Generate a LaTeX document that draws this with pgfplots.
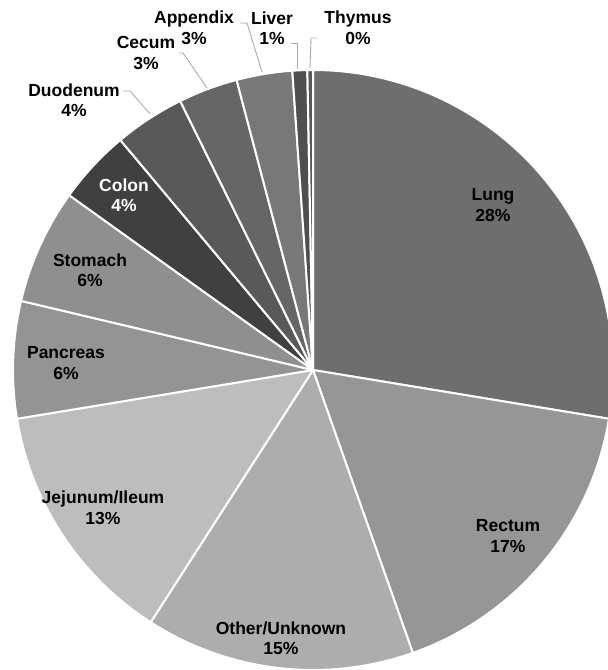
\documentclass[border=0pt]{standalone}
\usepackage{pgfplots}
\pgfplotsset{compat=1.18}
\usepackage{pgfplotstable}
\usepackage{fontspec}
\setmainfont{Liberation Sans}

% share (%) and black percentage of the fill, in clockwise order from 12 o'clock
\pgfplotstableread{
name value black
Lung 27.6 57
Rectum 17.0 41
Other 14.5 32
Jejunum 13.3 26
Pancreas 6.3 42
Stomach 6.2 44
Colon 4.0 75
Duodenum 3.8 65
Cecum 3.2 60
Appendix 3.0 53
Liver 0.8 69
Thymus 0.3 65
}\slices

\begin{document}
\begin{tikzpicture}
\begin{axis}[x=1pt,y=1pt,xmin=0,xmax=608,ymin=0,ymax=670,
  hide axis, scale only axis, clip=true, at={(0,0)}, anchor=south west]
\def\cum{0}
\pgfplotsforeachungrouped \i in {0,...,11}{%
  \pgfplotstablegetelem{\i}{value}\of\slices \let\v\pgfplotsretval
  \pgfplotstablegetelem{\i}{black}\of\slices \let\k\pgfplotsretval
  \pgfmathsetmacro\a{90-3.6*\cum}%
  \pgfmathsetmacro\cum{\cum+\v}%
  \pgfmathsetmacro\b{90-3.6*\cum}%
  \edef\temp{\noexpand\fill[black!\k, draw=white, line width=2pt, line join=round]
     (axis cs:313,300) -- ++(\a:300pt) arc[start angle=\a, end angle=\b, radius=300pt] -- cycle;}%
  \temp
}
% leader lines
\begin{scope}[draw=black!33, line width=0.9pt]
\draw (axis cs:123,579) -- (axis cs:130,579) -- (axis cs:150,556);
\draw (axis cs:179,617) -- (axis cs:183,617) -- (axis cs:207,582);
\draw (axis cs:240,647) -- (axis cs:247,647) -- (axis cs:262,598);
\draw (axis cs:291,627) -- (axis cs:297,627) -- (axis cs:297,601);
\draw (axis cs:317,632) -- (axis cs:311,632) -- (axis cs:310,602);
\end{scope}
% labels
\begin{scope}[every node/.style={align=center, inner sep=0pt, font=\bfseries\fontsize{17.5}{20.5}\selectfont}]
\node at (axis cs:493,465) {Lung\\28\%};
\node at (axis cs:508,134) {Rectum\\17\%};
\node at (axis cs:281,32) {Other/Unknown\\15\%};
\node at (axis cs:103,162) {Jejunum/Ileum\\13\%};
\node at (axis cs:66,307) {Pancreas\\6\%};
\node at (axis cs:90,400) {Stomach\\6\%};
\node[text=white] at (axis cs:124,475) {Colon\\4\%};
\node at (axis cs:74,570) {Duodenum\\4\%};
\node at (axis cs:146,617) {Cecum\\3\%};
\node at (axis cs:194,642) {Appendix\\3\%};
\node at (axis cs:272,642) {Liver\\1\%};
\node at (axis cs:358,642) {Thymus\\0\%};
\end{scope}
\end{axis}
\pgfresetboundingbox
\path (0,0) rectangle (608pt,670pt);
\end{tikzpicture}
\end{document}
